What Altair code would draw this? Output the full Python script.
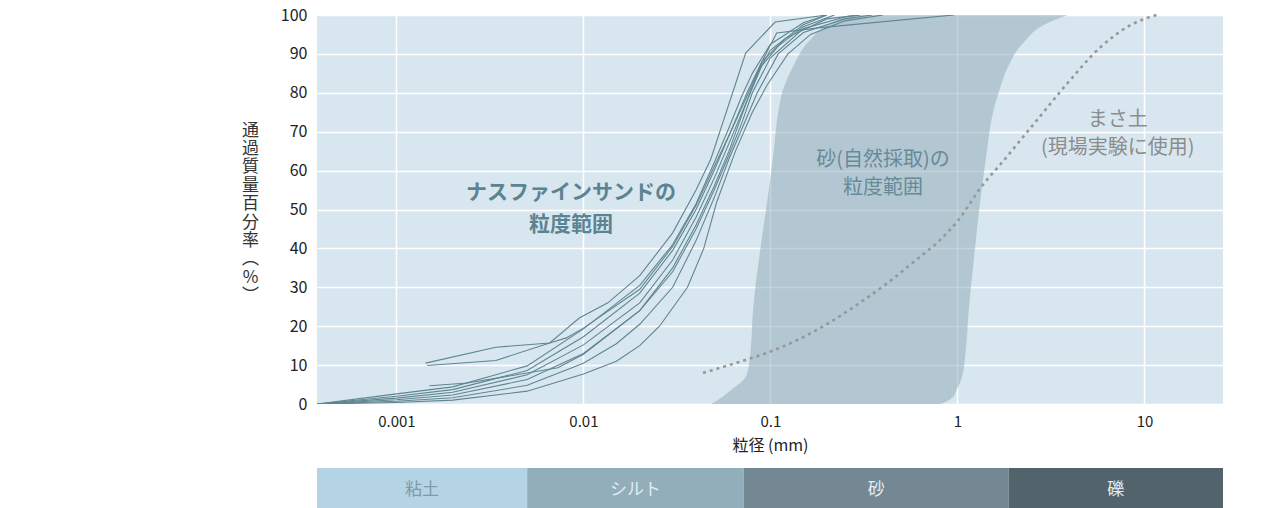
import altair as alt
import pandas as pd

FONT = "Noto Sans CJK JP"
X_MIN, X_MAX = 0.000376, 26.3

# ---- ナスファインサンド grading curves (particle size mm, passing %) ----
s1_x = [X_MIN, 0.001, 0.002, 0.005, 0.01, 0.015, 0.02, 0.0255, 0.036, 0.044, 0.0515, 0.065, 0.08, 0.096, 0.124, 0.164, 0.25, 0.4]
s1_v = [0, 0.4, 1.0, 3.3, 7.7, 11, 15, 20, 30, 40, 51.8, 65, 75, 82, 90, 95, 98.5, 100]
s2_x = [X_MIN, 0.001, 0.002, 0.005, 0.01, 0.015, 0.02, 0.03, 0.04, 0.05, 0.06, 0.07, 0.085, 0.11, 0.15, 0.25, 0.35]
s2_v = [0, 0.7, 1.6, 4.8, 10.5, 15.5, 20.5, 30, 42, 53, 63, 70.5, 80, 90, 95.5, 99, 100]
s3_x = [X_MIN, 0.001, 0.002, 0.005, 0.01, 0.02, 0.03, 0.04, 0.05, 0.06, 0.07, 0.08, 0.1, 0.15, 0.25, 0.3]
s3_v = [0, 1.1, 2.3, 6.3, 13, 24, 34, 45, 55, 64, 72, 80, 89, 96.5, 99.5, 100]
s4_x = [X_MIN, 0.001, 0.002, 0.005, 0.01, 0.02, 0.03, 0.04, 0.05, 0.06, 0.075, 0.09, 0.11, 0.15, 0.22]
s4_v = [0, 1.5, 3.0, 7.5, 15.2, 26, 37, 48, 58, 67, 78, 87, 92, 97, 100]
s5_x = [X_MIN, 0.001, 0.002, 0.005, 0.01, 0.02, 0.03, 0.04, 0.05, 0.06, 0.07, 0.085, 0.1, 0.15, 0.2]
s5_v = [0, 2.0, 3.7, 8.6, 17.3, 28.5, 39.5, 50, 60, 69, 76, 85, 91, 97.5, 100]
s6_x = [X_MIN, 0.001, 0.002, 0.005, 0.01, 0.02, 0.03, 0.04, 0.05, 0.06, 0.07, 0.08, 0.1, 0.15, 0.2]
s6_v = [0, 2.6, 4.4, 9.8, 19.3, 30.5, 41, 51.5, 62, 71, 79, 85, 92.5, 98, 100]
a_x = [0.00143, 0.0034, 0.0066, 0.0095, 0.0135, 0.02, 0.03, 0.04, 0.048, 0.0737, 0.106, 0.2]
a_v = [10.5, 14.6, 15.7, 22.1, 26, 33, 44, 55, 63, 90.2, 98.2, 100]
b_x = [0.00146, 0.0034, 0.0066, 0.0081, 0.01, 0.02, 0.03, 0.04, 0.05, 0.06, 0.075, 0.09, 0.12, 0.2, 0.3]
b_v = [9.9, 11.2, 15.7, 17, 19.5, 29.5, 40.5, 51, 61, 69, 80, 88, 94, 99, 100]
c_x = [0.0015, 0.0024, 0.0073, 0.01, 0.02, 0.03, 0.04, 0.05, 0.06, 0.075, 0.09, 0.108, 0.18, 0.96]
c_v = [4.7, 5.4, 9.3, 12.8, 24, 35, 46, 56, 65, 78, 88, 95.4, 96.7, 100]

# ---- 砂(自然採取) range: passing % with left / right boundary sizes ----
sand_v = [0, 1.5, 3.6, 7.2, 12.3, 24.2, 41.4, 50.4, 63.2, 76.1, 80.4, 86.4, 93.2, 97.5, 100]
sand_left = [0.0482, 0.054, 0.0616, 0.0741, 0.0778, 0.0807, 0.0892, 0.095, 0.103, 0.111, 0.116, 0.131, 0.16, 0.203, 0.262]
sand_right = [0.816, 0.93, 0.99, 1.06, 1.10, 1.15, 1.25, 1.31, 1.42, 1.57, 1.67, 1.85, 2.28, 2.91, 3.88]

# ---- まさ土 curve ----
masa_x = [0.0436, 0.07, 0.1, 0.14, 0.2, 0.3, 0.42, 0.6, 0.8, 1.0, 1.37, 1.69, 2.54, 3.82, 5.75, 8.5, 11.6]
masa_v = [8, 11, 13.5, 16.5, 20.5, 26, 31, 37, 42, 47, 56.4, 61.5, 71.8, 82.1, 91.5, 97.5, 100]

# ---- annotations ----
ann_text = ["ナスファインサンドの", "粒度範囲", "砂(自然採取)の", "粒度範囲", "まさ土", "(現場実験に使用)"]
ann_x = [0.00858, 0.00858, 0.40, 0.40, 7.2, 7.2]
ann_v = [54.2, 46.0, 62.7, 55.5, 73.0, 65.8]
ann_group = ["nasu", "nasu", "sand", "sand", "masa", "masa"]

# ---- soil classification bar ----
soil_names = ["粘土", "シルト", "砂", "礫"]
soil_bounds = [X_MIN, 0.005, 0.072, 1.88, X_MAX]
soil_colors = ["#b4d3e3", "#93aebb", "#738892", "#52636b"]

y_ticks = list(range(0, 101, 10))
x_ticks = [0.001, 0.01, 0.1, 1, 10]
y_title = ["通", "過", "質", "量", "百", "分", "率", "︵", "%", "︶"]

# ---------------- build tables ----------------
rows = []
for name, xs, vs in [("s1", s1_x, s1_v), ("s2", s2_x, s2_v), ("s3", s3_x, s3_v),
                     ("s4", s4_x, s4_v), ("s5", s5_x, s5_v), ("s6", s6_x, s6_v),
                     ("a", a_x, a_v), ("b", b_x, b_v), ("c", c_x, c_v)]:
    for i, (x, v) in enumerate(zip(xs, vs)):
        rows.append({"series": name, "size": x, "pass": v, "order": i})
nasu_df = pd.DataFrame(rows)
sand_df = pd.DataFrame({"pass": sand_v, "left": sand_left, "right": sand_right})
masa_df = pd.DataFrame({"size": masa_x, "pass": masa_v})
ann_df = pd.DataFrame({"text": ann_text, "size": ann_x, "pass": ann_v, "g": ann_group})
soil_df = pd.DataFrame({"name": soil_names, "start": soil_bounds[:-1], "end": soil_bounds[1:]})

xscale = alt.Scale(type="log", domain=[X_MIN, X_MAX], nice=False)
yscale = alt.Scale(domain=[0, 100], nice=False)

x_axis = alt.Axis(values=x_ticks, format="~g", title="粒径 (mm)", labelFontSize=15, labelColor="#222",
                  labelPadding=10, titleFontSize=16, titleFontWeight="normal", titleColor="#222",
                  titlePadding=8, ticks=False, domain=False, gridColor="white", gridWidth=1.5,
                  labelFont=FONT, titleFont=FONT, labelOverlap=False, tickCount=20)
y_axis = alt.Axis(values=y_ticks, tickCount=20, title=y_title,
                  titleAngle=0, titleAlign="center", titleBaseline="top", titleX=-67, titleY=107,
                  titleLineHeight=18.4, titleFontSize=17, titleFontWeight="normal", titleColor="#333",
                  labelFontSize=16, labelColor="#222", labelPadding=10, ticks=False, domain=False,
                  gridColor="white", gridWidth=1.5, labelFont=FONT, titleFont=FONT, labelOverlap=False)


def X(field):
    return alt.X(field, type="quantitative", scale=xscale, axis=x_axis)


def Y(field):
    return alt.Y(field, type="quantitative", scale=yscale, axis=y_axis)


area = alt.Chart(sand_df).mark_area(orient="horizontal", color="#93adb9", opacity=0.55,
                                    interpolate="monotone").encode(
    y=Y("pass"), x=X("left"), x2="right:Q",
)

masa = alt.Chart(masa_df).mark_line(color="#979797", strokeWidth=2.6, strokeDash=[3, 4],
                                    interpolate="monotone").encode(
    x=X("size"), y=Y("pass"),
)

nasu = alt.Chart(nasu_df).mark_line(color="#5f8591", strokeWidth=1.1, clip=True).encode(
    x=X("size"), y=Y("pass"), detail="series:N", order="order:Q",
)


def ann_layer(group, color, weight, size):
    return alt.Chart(ann_df).transform_filter(alt.datum.g == group).mark_text(
        font=FONT, fontSize=size, fontWeight=weight, color=color, align="center", baseline="middle"
    ).encode(x=X("size"), y=Y("pass"), text="text:N")


main = alt.layer(
    area, masa, nasu,
    ann_layer("nasu", "#5c8391", "bold", 21),
    ann_layer("sand", "#688a97", "normal", 20),
    ann_layer("masa", "#8c8c8c", "normal", 20),
).properties(width=906, height=389, view=alt.ViewBackground(fill="#d8e7ef", stroke=None))

bar_x = alt.Scale(type="log", domain=[X_MIN, X_MAX], nice=False)
bars = alt.Chart(soil_df).mark_rect().encode(
    x=alt.X("start:Q", scale=bar_x, axis=None),
    x2="end:Q",
    color=alt.Color("name:N", scale=alt.Scale(domain=soil_names, range=soil_colors), legend=None),
)
bar_text = alt.Chart(soil_df).transform_calculate(mid="sqrt(datum.start * datum.end)").mark_text(
    font=FONT, fontSize=17, baseline="middle"
).encode(
    x=alt.X("mid:Q", scale=bar_x, axis=None),
    text="name:N",
    color=alt.condition(alt.datum.name == "粘土", alt.value("#7f9ba7"), alt.value("#e4ecf0")),
)
bottom = alt.layer(bars, bar_text).properties(width=906, height=44, view=alt.ViewBackground(stroke=None))

chart = alt.vconcat(main, bottom, spacing=15).properties(
    padding={"left": 233, "top": -1, "right": 5, "bottom": 0}
).configure_view(stroke=None).configure(font=FONT, background="white")

chart.save("out.html", embed_options={"renderer": "svg", "actions": False})
